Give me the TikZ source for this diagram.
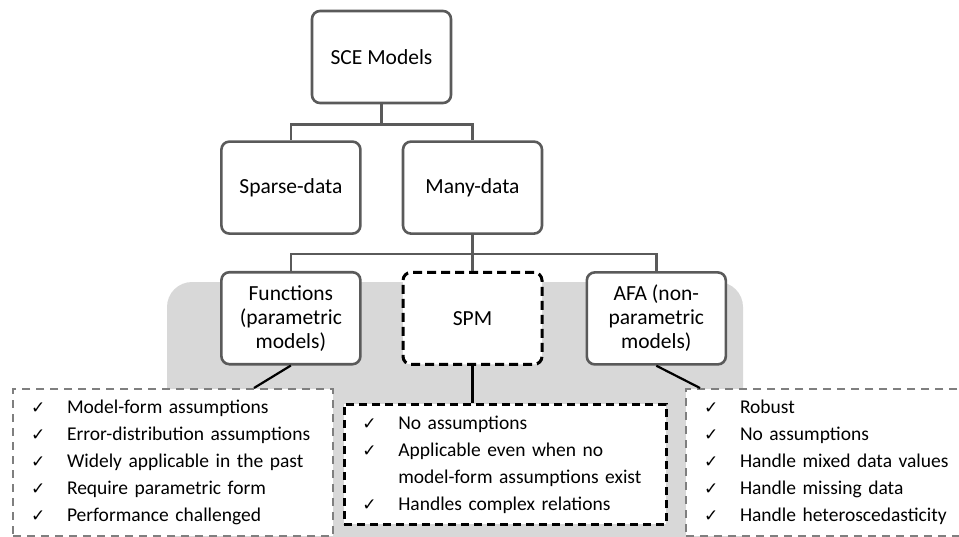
\documentclass[tikz,border=0pt]{standalone}
\usepackage{fontspec}
\setmainfont{Carlito}
\newfontfamily\symfont{DejaVu Sans}
\usepackage{tikz}
\usetikzlibrary{positioning}
\definecolor{boxGray}{HTML}{5A5A5A}
\definecolor{panelGray}{HTML}{D8D8D8}
\definecolor{dashGray}{HTML}{7F7F7F}
\newcommand{\chk}{\strut\makebox[36pt][l]{{\symfont\fontsize{17}{17}\selectfont ✓}}}
\newcommand{\cont}{\strut\makebox[36pt]{}}

\begin{document}
\begin{tikzpicture}[x=1pt, y=-1pt,
    node distance=36pt and 40pt,
    category/.style={rectangle, rounded corners=8pt, minimum width=139pt, minimum height=92pt,
                     align=center, font=\fontsize{21.5}{24}\selectfont, fill=white, draw=boxGray, line width=2.6pt},
    method/.style={category, draw=black, line width=3pt, dash pattern=on 9pt off 5pt},
    checklist/.style={rectangle, anchor=north west, align=left, font=\fontsize{19.5}{27}\selectfont,
                      fill=white, draw=dashGray, line width=2pt, dash pattern=on 8pt off 6pt,
                      inner xsep=18pt, inner ysep=6pt},
    tree/.style={draw=boxGray, line width=2.6pt},
    link/.style={draw=black, line width=2.2pt}
]
\useasboundingbox (0,0) rectangle (959,536);
\clip (0,0) rectangle (959,536);

% grey panel behind the lower level
\fill[panelGray, rounded corners=25pt] (167,282) rectangle (743,570);

\node[category] (sce) at (381.5,57) {SCE Models};
\node[category, below=36pt of sce, xshift=91pt] (many) {Many-data};
\node[category, left=of many] (sparse) {Sparse-data};
\node[category, below=of sparse] (func) {Functions\\(parametric\\models)};
\node[method, below=of many] (spm) {SPM};
\node[category, right=42pt of spm] (afa) {AFA (non-\\parametric\\models)};

\node[checklist, text width=284pt] (funclist) at (12,388) {%
    \chk Model-form assumptions\\
    \chk Error-distribution assumptions\\
    \chk Widely applicable in the past\\
    \chk Require parametric form\\
    \chk Performance challenged};
\node[checklist, text width=286pt, draw=black, line width=2.6pt, dash pattern=on 8pt off 5pt] (spmlist) at (343,403) {%
    \chk No assumptions\\
    \chk Applicable even when no\\
    \cont model-form assumptions exist\\
    \chk Handles complex relations};
\node[checklist, text width=264pt] (afalist) at (685,388) {%
    \chk Robust\\
    \chk No assumptions\\
    \chk Handle mixed data values\\
    \chk Handle missing data\\
    \chk Handle heteroscedasticity};

\draw[tree] (sce.south) -- ++(0,20) -| (sparse.north);
\draw[tree] (sce.south) -- ++(0,20) -| (many.north);
\draw[tree] (many.south) -- (spm.north);
\draw[tree] (many.south) -- ++(0,19) -| (func.north);
\draw[tree] (many.south) -- ++(0,19) -| (afa.north);

\draw[link] (func.south) -- ([xshift=-80pt]funclist.north east);
\draw[link] (spm.south) -- (spm.south |- spmlist.north);
\draw[link] (afa.south) -- ([xshift=15pt]afalist.north west);

\end{tikzpicture}
\end{document}
